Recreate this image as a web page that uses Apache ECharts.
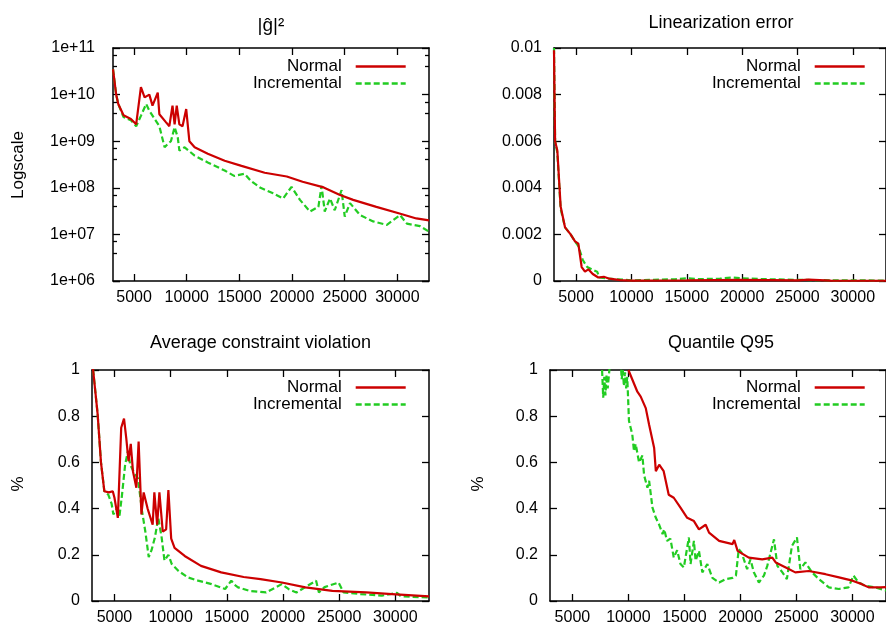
<!DOCTYPE html>
<html><head><meta charset="utf-8">
<script src="https://cdn.jsdelivr.net/npm/echarts@6/dist/echarts.min.js"></script>
<style>html,body{margin:0;padding:0;background:#fff}#c{width:886px;height:626px}</style>
</head><body><div id="c"></div>
<script>
// ---------- data ----------
const xTicks = [5000, 10000, 15000, 20000, 25000, 30000];
const seriesNames = ['Normal', 'Incremental'];
const panelTitles = ['|ĝ|²', 'Linearization error', 'Average constraint violation', 'Quantile Q95'];
const yNames = ['Logscale', '', '%', '%'];

// Panel 1: |g|^2 (log scale)
const gNormalX = [3000,3300,3500,4000,4700,5200,5650,6000,6450,6750,7250,7400,8000,8350,8650,8850,9050,9300,9600,9950,10250,10750,12000,13600,15200,17400,19500,21000,23000,24500,25800,28000,30200,31800,33000];
const gNormalV = [3.5e10,1.0e10,6.3e9,3.6e9,3.0e9,2.3e9,1.45e10,8.7e9,1.0e10,5.8e9,1.1e10,3.8e9,2.6e9,2.1e9,5.8e9,2.3e9,5.8e9,2.3e9,2.1e9,4.9e9,1.0e9,7.4e8,5.4e8,3.8e8,2.95e8,2.1e8,1.75e8,1.35e8,1.02e8,7.1e7,5.5e7,3.9e7,2.8e7,2.2e7,2.0e7];
const gIncrX = [3000,3300,3500,4000,4700,5200,5650,6150,6450,6950,7400,7900,8200,8500,8850,9150,9300,9800,10750,12000,13600,14500,15500,16100,17000,18200,19150,19950,20750,21700,22500,22800,23100,23600,24050,24700,25000,25500,26450,27700,29000,30250,30900,32150,33000];
const gIncrV = [3.5e10,1.0e10,6.3e9,3.3e9,2.8e9,2.1e9,3.5e9,6.3e9,4.5e9,3.0e9,2.1e9,7.4e8,8.7e8,1.0e9,2.0e9,1.2e9,6.3e8,7.4e8,4.9e8,3.5e8,2.35e8,1.8e8,2.0e8,1.4e8,1.0e8,7.6e7,5.9e7,1.05e8,5.5e7,3.1e7,3.9e7,1.1e8,3.1e7,5.9e7,3.3e7,8.9e7,2.4e7,4.7e7,2.6e7,1.9e7,1.6e7,2.6e7,1.7e7,1.5e7,1.15e7];

// Panel 2: Linearization error
const linNormalX = [3000,3100,3300,3600,4000,4500,4900,5200,5500,5800,6100,6500,7000,7500,8000,9000,10000,15000,20000,25000,26000,28000,33000];
const linNormalV = [0.0099,0.0060,0.0056,0.0032,0.0023,0.0020,0.0017,0.0016,0.0006,0.0004,0.0005,0.0003,0.00015,0.00018,0.0001,0.00004,0.00002,0.00003,0.00005,0.00003,0.00006,0.00002,0.00001];
const linIncrX = [3000,3100,3300,3600,4000,4500,4900,5200,5600,6000,6400,6900,7100,8000,10000,12000,14000,15000,16000,18000,19000,20000,22000,25000,28000,33000];
const linIncrV = [0.0100,0.0060,0.0055,0.0031,0.0023,0.0020,0.0017,0.0015,0.0009,0.0006,0.0005,0.0004,0.00015,0.0001,0.00003,0.00005,0.00008,0.00012,0.00008,0.0001,0.00015,0.00012,0.00008,0.00005,0.00003,0.00002];

// Panel 3: Average constraint violation
const acvNormalX = [3000,3100,3500,3800,4100,4500,4850,5000,5300,5600,5850,6050,6250,6450,6650,6950,7150,7400,7600,7950,8400,8550,8800,9000,9300,9600,9800,10050,10350,11250,12700,14500,16500,18000,19900,22000,24400,27400,29700,33000];
const acvNormalV = [1.08,1.0,0.81,0.60,0.475,0.47,0.475,0.447,0.36,0.75,0.79,0.705,0.605,0.68,0.56,0.49,0.69,0.375,0.47,0.40,0.33,0.47,0.33,0.47,0.30,0.31,0.48,0.27,0.23,0.195,0.152,0.124,0.104,0.095,0.08,0.059,0.044,0.037,0.030,0.02];
const acvIncrX = [3000,3100,3500,3800,4100,4450,4750,4900,5200,5450,5650,5950,6200,6400,6700,7100,7450,7750,8050,8300,8600,8900,9200,9450,9800,10100,10700,11550,12450,13650,14850,15400,15700,16000,17000,18500,19900,20550,21200,22950,23200,23700,24950,25400,26900,28800,30150,30500,33000];
const acvIncrV = [1.08,1.0,0.81,0.60,0.475,0.46,0.42,0.375,0.40,0.37,0.45,0.59,0.65,0.59,0.56,0.53,0.39,0.30,0.19,0.22,0.275,0.36,0.275,0.175,0.20,0.16,0.13,0.102,0.088,0.073,0.052,0.088,0.07,0.059,0.044,0.037,0.073,0.05,0.037,0.088,0.037,0.06,0.08,0.037,0.03,0.023,0.035,0.02,0.015];

// Panel 4: Quantile Q95
const q95NormalX = [10000,10800,11100,11550,11850,12300,12450,12750,13150,13600,14050,14650,15250,15850,16300,16900,17200,18100,19300,19450,19750,20750,21950,22850,23150,24050,24900,26100,27600,28800,30000,30850,31450,32500,33000];
const q95NormalV = [1.0,0.906,0.885,0.835,0.763,0.662,0.562,0.59,0.562,0.46,0.447,0.404,0.36,0.346,0.31,0.33,0.296,0.26,0.246,0.264,0.217,0.188,0.18,0.188,0.167,0.145,0.124,0.13,0.116,0.102,0.088,0.073,0.059,0.059,0.06];
const q95IncrX = [7650,7750,7850,7950,8050,8150,8300,8450,9300,9400,9500,9600,9700,9800,9900,10050,10350,10500,10650,10950,11250,11400,11700,11850,12150,12450,12750,13050,13200,13450,13750,14050,14350,14650,14950,15400,15550,15850,16000,16300,16600,17050,17500,18100,18700,19300,19600,19850,20100,20600,20900,21200,21650,22100,22400,22700,23000,23300,23750,24150,24600,25050,25350,25800,26400,27000,27900,28800,29650,30100,30550,31150,32050,33000];
const q95IncrV = [1.0,0.88,0.97,0.89,0.98,0.92,1.0,1.08,1.05,0.96,1.0,0.93,0.99,0.92,0.97,0.78,0.72,0.648,0.68,0.60,0.63,0.545,0.49,0.52,0.404,0.36,0.33,0.29,0.31,0.26,0.27,0.188,0.22,0.16,0.145,0.275,0.16,0.26,0.175,0.217,0.124,0.16,0.10,0.08,0.095,0.10,0.11,0.224,0.21,0.138,0.18,0.124,0.08,0.11,0.152,0.21,0.267,0.152,0.124,0.095,0.238,0.275,0.138,0.167,0.124,0.095,0.059,0.052,0.059,0.11,0.08,0.066,0.059,0.045];

// ---------- chart ----------
const FONT = '"Liberation Sans", Arial, Helvetica, sans-serif';
const RED = '#cc0000', GREEN = '#22cc22';
const zip = (xs, vs) => xs.map((x, i) => [x, vs[i]]);

const grids = [
  {left: 113, top: 48, width: 316, height: 233},
  {left: 554, top: 48, width: 333, height: 233},
  {left: 92, top: 370, width: 337, height: 232},
  {left: 550, top: 370, width: 337, height: 232}
];
const panelData = [
  [zip(gNormalX, gNormalV), zip(gIncrX, gIncrV)],
  [zip(linNormalX, linNormalV), zip(linIncrX, linIncrV)],
  [zip(acvNormalX, acvNormalV), zip(acvIncrX, acvIncrV)],
  [zip(q95NormalX, q95NormalV), zip(q95IncrX, q95IncrV)]
];
const yConf = [
  {type: 'log', min: 1e6, max: 1e11,
   fmt: v => { const e = Math.round(Math.log10(v)); return '1e+' + (e < 10 ? '0' : '') + e; }, margin: 18},
  {type: 'value', min: 0, max: 0.01, interval: 0.002, fmt: v => String(+v.toFixed(4)), margin: 12},
  {type: 'value', min: 0, max: 1, interval: 0.2, fmt: v => String(+v.toFixed(2)), margin: 12},
  {type: 'value', min: 0, max: 1, interval: 0.2, fmt: v => String(+v.toFixed(2)), margin: 12}
];

const axisLine = {show: true, onZero: false, lineStyle: {color: '#000', width: 1.5}};
const tickStyle = {color: '#000', width: 1.3};
const xAxis = [], yAxis = [], series = [], legend = [], graphic = [];

grids.forEach((g, i) => {
  ['bottom', 'top'].forEach((pos, k) => {
    xAxis.push({
      type: 'value', gridIndex: i, position: pos, min: 3000, max: 33000,
      axisLine,
      axisTick: {show: true, inside: true, length: 7, customValues: xTicks, lineStyle: tickStyle},
      axisLabel: {show: k === 0, customValues: xTicks, color: '#000', fontSize: 16, fontFamily: FONT, margin: 9,
                  formatter: v => String(Math.round(v))},
      splitLine: {show: false}
    });
  });
  const yc = yConf[i];
  ['left', 'right'].forEach((pos, k) => {
    const ax = {
      type: yc.type, gridIndex: i, position: pos, min: yc.min, max: yc.max,
      axisLine,
      axisTick: {show: true, inside: true, length: 7, lineStyle: tickStyle},
      axisLabel: {show: k === 0, color: '#000', fontSize: 16, fontFamily: FONT, margin: yc.margin, formatter: yc.fmt},
      splitLine: {show: false}
    };
    if (yc.type === 'log') {
      ax.logBase = 10;
      ax.minorTick = {show: true, splitNumber: 3, length: 4, lineStyle: tickStyle};
    } else {
      ax.interval = yc.interval;
    }
    yAxis.push(ax);
  });
  panelData[i].forEach((d, s) => {
    series.push({
      name: seriesNames[s], type: 'line', xAxisIndex: 2 * i, yAxisIndex: 2 * i,
      data: d, symbol: 'none', clip: true, animation: false,
      lineStyle: {color: s === 0 ? RED : GREEN, width: 2.2, type: s === 0 ? 'solid' : [6, 3]},
      itemStyle: {color: s === 0 ? RED : GREEN},
      z: s === 0 ? 3 : 2
    });
  });
  legend.push({
    data: seriesNames, orient: 'vertical', align: 'right',
    right: i % 2 === 0 ? 479 : 20, top: i < 2 ? 58 : 379,
    itemWidth: 50, itemHeight: 17, itemGap: 0, padding: 0, selectedMode: false,
    itemStyle: {opacity: 0},
    lineStyle: {width: 2.6},
    textStyle: {fontSize: 17, color: '#000', fontFamily: FONT, padding: [0, 9, 0, 0]}
  });
  const cx = g.left + g.width / 2;
  graphic.push({
    type: 'text', x: i % 2 === 0 ? cx : 721, y: i < 2 ? (i === 0 ? 26 : 23) : 343,
    style: {text: panelTitles[i], fontSize: i === 0 ? 19 : 18, fontFamily: FONT, fill: '#000', align: 'center', verticalAlign: 'middle'}
  });
  if (yNames[i]) {
    graphic.push({
      type: 'text', x: i === 3 ? 478 : 18, y: i === 0 ? 165 : 484, rotation: Math.PI / 2,
      style: {text: yNames[i], fontSize: 17, fontFamily: FONT, fill: '#000', align: 'center', verticalAlign: 'middle'}
    });
  }
});

const chart = echarts.init(document.getElementById('c'), null, {renderer: 'canvas'});
chart.setOption({
  backgroundColor: '#fff',
  animation: false,
  grid: grids,
  xAxis, yAxis, series, legend, graphic
});
</script>
</body></html>
